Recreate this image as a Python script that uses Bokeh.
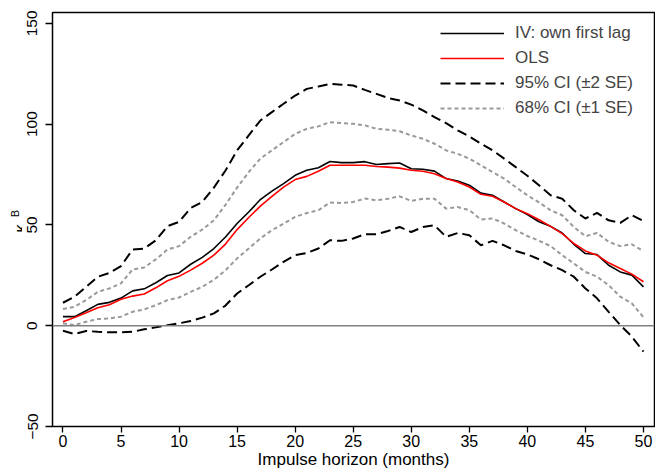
import math
from bokeh.plotting import figure
from bokeh.layouts import row
from bokeh.models import Range1d, Span, Legend, LegendItem, FixedTicker, Label
from bokeh.embed import file_html
from bokeh.resources import INLINE

horizon = list(range(51))

iv = [4.5, 4.5, 7.4, 10.6, 11.6, 13.7, 17.3, 18.3, 21.3, 24.9,
      26.2, 30.5, 33.9, 38.3, 44.0, 50.7, 56.4, 62.6, 66.8, 70.5,
      74.6, 77.1, 78.4, 81.5, 80.9, 80.9, 81.4, 80.0, 80.4, 80.7,
      77.9, 77.6, 76.7, 73.0, 71.8, 69.7, 65.8, 64.7, 61.4, 58.1,
      55.2, 51.6, 49.3, 46.0, 40.4, 35.8, 35.3, 30.0, 26.7, 25.1,
      19.3]

ols = [2.0, 4.1, 6.4, 8.9, 10.4, 13.1, 14.7, 15.7, 18.8, 22.3,
       24.5, 27.6, 31.0, 35.0, 40.5, 47.7, 53.7, 59.3, 64.2, 68.8,
       72.5, 74.1, 76.6, 79.6, 79.6, 79.6, 79.6, 79.0, 78.7, 78.2,
       77.1, 76.6, 75.4, 73.0, 71.3, 68.8, 65.2, 64.2, 61.4, 58.1,
       55.6, 52.6, 49.3, 45.7, 40.8, 37.1, 35.0, 31.2, 28.4, 25.6,
       21.8]

ci95_upper = [11.4, 14.4, 19.3, 24.3, 26.2, 29.6, 37.8, 38.3, 42.4, 49.4,
              51.5, 58.4, 61.4, 68.5, 77.0, 87.0, 94.4, 101.8, 106.0, 110.1,
              114.2, 117.5, 118.7, 120.0, 119.6, 119.2, 117.0, 115.0, 113.0, 111.7,
              109.7, 106.8, 103.5, 100.5, 96.9, 93.9, 90.3, 87.0, 82.9, 78.7,
              74.4, 69.7, 64.7, 63.0, 57.3, 53.2, 56.0, 52.3, 51.0, 54.8,
              52.0]

ci95_lower = [-2.5, -4.1, -2.6, -3.0, -3.3, -3.3, -3.0, -1.8, -0.8, 0.3,
              1.2, 2.3, 4.0, 6.1, 10.0, 16.0, 20.1, 24.3, 27.9, 31.7,
              35.0, 36.1, 38.3, 42.4, 42.1, 43.3, 45.4, 45.4, 47.0, 49.0,
              46.5, 49.0, 49.8, 44.1, 46.0, 44.9, 39.9, 42.1, 39.9, 37.1,
              35.4, 33.0, 30.0, 27.6, 24.3, 18.5, 13.6, 6.9, 0.3, -5.4,
              -12.9]

ci68_upper = [8.3, 9.4, 12.7, 16.8, 18.5, 21.0, 27.9, 28.9, 32.9, 37.8,
              39.5, 44.1, 47.7, 52.3, 60.0, 68.5, 76.2, 82.9, 87.0, 91.1,
              95.2, 97.7, 98.9, 101.0, 100.5, 100.2, 99.4, 97.7, 97.2, 96.5,
              94.4, 92.8, 90.3, 87.0, 85.3, 82.9, 79.6, 76.2, 73.0, 68.8,
              64.7, 61.2, 57.3, 54.8, 49.0, 44.4, 46.0, 41.6, 39.5, 40.4,
              37.0]

ci68_lower = [1.2, 0.3, 2.0, 3.3, 3.6, 4.5, 6.9, 8.1, 10.2, 12.7,
              14.0, 16.8, 19.3, 22.8, 27.5, 33.4, 38.3, 43.3, 47.4, 50.7,
              54.0, 55.9, 57.3, 61.1, 60.9, 61.4, 63.1, 62.2, 63.0, 64.2,
              61.9, 63.0, 63.0, 58.1, 58.9, 57.3, 52.7, 53.2, 50.7, 47.4,
              44.5, 42.2, 39.5, 35.0, 30.9, 26.7, 24.3, 20.1, 14.4, 11.1,
              4.2]

x_ticks = [0, 5, 10, 15, 20, 25, 30, 35, 40, 45, 50]
y_ticks = [-50, 0, 50, 100, 150]
y_tick_labels = {-50: "\u221250", 0: "0", 50: "50", 100: "100", 150: "150"}

series_labels = ["IV: own first lag", "OLS", "95% CI (\u00b12 SE)", "68% CI (\u00b11 SE)"]
y_title_main = "\u03ba"
y_title_sub = "B"

FONT = "Liberation Sans"
H = 472
TITLE_W = 22
FRAME_TOP = 12
FRAME_BOTTOM_BORDER = 46

p = figure(width=655 - TITLE_W, height=H, output_backend="svg", toolbar_location=None,
           x_range=Range1d(-0.9, 50.95), y_range=Range1d(-50, 155.4),
           min_border_left=52 - TITLE_W, min_border_right=1,
           min_border_top=FRAME_TOP, min_border_bottom=FRAME_BOTTOM_BORDER)
p.grid.visible = False
p.outline_line_color = "black"
p.outline_line_width = 1.5
p.background_fill_color = "white"
p.border_fill_color = "white"

for ax in (p.xaxis, p.yaxis):
    ax.axis_line_color = None
    ax.major_tick_line_color = "black"
    ax.major_tick_line_width = 1.3
    ax.major_tick_in = 0
    ax.minor_tick_line_color = None
    ax.major_label_text_font = FONT
    ax.major_label_text_color = "black"
    ax.axis_label_text_font = FONT
    ax.axis_label_text_font_style = "normal"
    ax.axis_label_text_color = "black"

p.xaxis.ticker = FixedTicker(ticks=x_ticks)
p.xaxis.major_tick_out = 6
p.xaxis.major_label_text_font_size = "16px"
p.xaxis.major_label_standoff = 2
p.xaxis.axis_label = "Impulse horizon (months)"
p.xaxis.axis_label_text_font_size = "17px"
p.xaxis.axis_label_standoff = 0

p.yaxis.ticker = FixedTicker(ticks=y_ticks)
p.yaxis.major_label_overrides = y_tick_labels
p.yaxis.major_tick_out = 7
p.yaxis.major_label_text_font_size = "15.5px"
p.yaxis.major_label_orientation = "parallel"
p.yaxis.major_label_standoff = 8

p.add_layout(Span(location=0, dimension="width", line_color="#808080", line_width=1.5))

r95u = p.line(horizon, ci95_upper, line_color="black", line_width=2, line_dash="10 5")
r95l = p.line(horizon, ci95_lower, line_color="black", line_width=2, line_dash="10 5")
r68u = p.line(horizon, ci68_upper, line_color="#999999", line_width=2, line_dash="4 3")
r68l = p.line(horizon, ci68_lower, line_color="#999999", line_width=2, line_dash="4 3")
riv = p.line(horizon, iv, line_color="black", line_width=1.6)
rols = p.line(horizon, ols, line_color="#ff0000", line_width=1.6)

legend = Legend(items=[
    LegendItem(label=series_labels[0], renderers=[riv]),
    LegendItem(label=series_labels[1], renderers=[rols]),
    LegendItem(label=series_labels[2], renderers=[r95u]),
    LegendItem(label=series_labels[3], renderers=[r68u]),
], location="top_right", margin=11, padding=0, spacing=5,
    glyph_width=64, glyph_height=20, label_height=20, label_width=128,
    label_standoff=11, label_text_font=FONT, label_text_font_size="17px",
    border_line_color=None, background_fill_alpha=0)
p.add_layout(legend)

# narrow strip on the left carrying the y-axis title (kappa with subscript B);
# in a row its frame is aligned with the main frame (top 12, bottom 426)
frame_bottom = H - FRAME_BOTTOM_BORDER
t = figure(width=TITLE_W, height=H, output_backend="svg", toolbar_location=None,
           x_range=Range1d(0, TITLE_W), y_range=Range1d(0, 1),
           x_axis_type=None, y_axis_type=None, min_border_left=0,
           min_border_right=0, min_border_top=FRAME_TOP,
           min_border_bottom=FRAME_BOTTOM_BORDER)
t.grid.visible = False
t.outline_line_color = None
t.background_fill_color = "white"
t.border_fill_color = "white"
t.add_layout(Label(x=19.5, y=frame_bottom - 228, x_units="screen", y_units="screen",
                   text=y_title_main, angle=math.pi / 2, text_font=FONT,
                   text_font_size="17px", text_align="center",
                   text_baseline="alphabetic", text_color="black"))
t.add_layout(Label(x=14.0, y=frame_bottom - 213, x_units="screen", y_units="screen",
                   text=y_title_sub, angle=math.pi / 2, text_font=FONT,
                   text_font_size="11px", text_align="center",
                   text_baseline="alphabetic", text_color="black"))

layout = row(t, p, spacing=0)
open("out.html", "w").write(file_html(layout, INLINE))
